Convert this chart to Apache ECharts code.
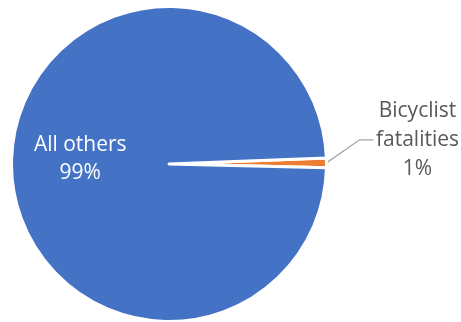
<!DOCTYPE html>
<html>
<head>
<meta charset="utf-8">
<script src="https://cdn.jsdelivr.net/npm/echarts@6/dist/echarts.min.js"></script>
<style>html,body{margin:0;padding:0;background:#fff}#c{width:461px;height:322px}</style>
</head>
<body>
<div id="c"></div>
<script>
const categories = ['Bicyclist fatalities', 'All others'];
const values = [1, 99];
const colors = ['#ED7D31', '#4472C4'];

const FONT = 'Open Sans';
const chart = echarts.init(document.getElementById('c'), null, {renderer: 'canvas'});
chart.setOption({
  animation: false,
  series: [{
    type: 'pie',
    center: [169, 164],
    radius: 157.5,
    startAngle: 2.2,
    clockwise: true,
    itemStyle: {borderColor: '#fff', borderWidth: 3},
    labelLayout: function (p) {
      if (p.dataIndex === 1) return {dx: -7, dy: -6};
      return {x: p.labelRect.x + 14, y: p.labelRect.y + p.labelRect.height / 2 - 23};
    },
    data: categories.map((c, i) => {
      const item = {name: c, value: values[i], itemStyle: {color: colors[i]}};
      if (i === 0) {
        item.label = {
          show: true, position: 'outside', overflow: 'none',
          formatter: function (p) { return '{a|Bicyclist}\n{a|fatalities}\n{a|' + Math.round(p.percent) + '%}'; },
          rich: {a: {fontFamily: FONT, fontSize: 21, color: '#595959', width: 88, align: 'center', lineHeight: 29}}
        };
        item.labelLine = {show: true, length: 14, length2: 14, lineStyle: {color: '#A6A6A6', width: 1.3}};
      } else {
        item.label = {
          show: true, position: 'inside',
          formatter: function (p) { return p.name + '\n' + Math.round(p.percent) + '%'; },
          fontFamily: FONT, fontSize: 21, color: '#fff', lineHeight: 28, align: 'center'
        };
        item.labelLine = {show: false};
      }
      return item;
    })
  }]
});
</script>
</body>
</html>
